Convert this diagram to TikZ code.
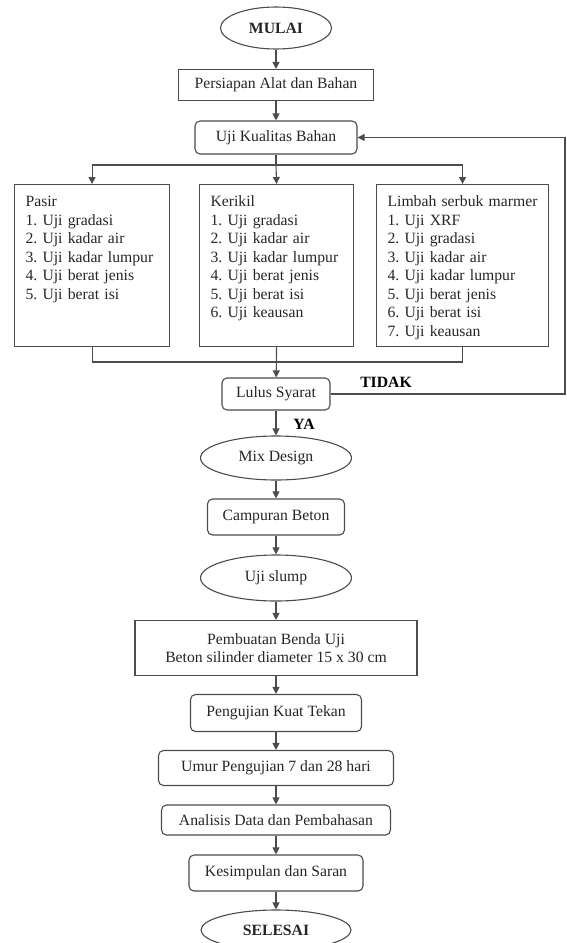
\documentclass[tikz,border=0pt]{standalone}
\usepackage{fontspec}
\setmainfont{Liberation Serif}
\usetikzlibrary{shapes.geometric,arrows.meta}
\newcommand{\listnr}[1]{\makebox[17pt][l]{#1}}

\begin{document}
\begin{tikzpicture}[x=1pt,y=-1pt,
        font=\fontsize{15.7}{18.5}\selectfont,
        line/.style={draw=black!70,line width=1.1pt},
        arrow/.style={line,-{Triangle[length=7pt,width=7pt]}},
        box/.style={line,rectangle,inner sep=0pt,text=black!85},
        roundbox/.style={box,rounded corners=5pt},
        oval/.style={line,ellipse,inner sep=0pt,text=black!85},
        listbox/.style={line,rectangle,anchor=north west,inner xsep=11pt,inner ysep=10pt,
            text height=12pt,text depth=130pt,align=left,text=black!85}]
                \path[use as bounding box,clip] (0,0) rectangle (566,943);
                \node[oval,minimum width=111,minimum height=42] (start) at (276,28) {\textbf{MULAI}};
                \node[box,minimum width=195,minimum height=31] (prep) at (276,85) {Persiapan Alat dan Bahan};
                \node[roundbox,minimum width=162,minimum height=33] (test) at (276,137.5) {Uji Kualitas Bahan};
                \coordinate (split) at (276,165);

                \node[listbox,text width=133] (sand) at (14,184) {Pasir\\\listnr{1.}Uji gradasi\\\listnr{2.}Uji kadar air\\\listnr{3.}Uji kadar lumpur\\\listnr{4.}Uji berat jenis\\\listnr{5.}Uji berat isi};
                \node[listbox,text width=132] (gravel) at (199,184) {Kerikil\\\listnr{1.}Uji gradasi\\\listnr{2.}Uji kadar air\\\listnr{3.}Uji kadar lumpur\\\listnr{4.}Uji berat jenis\\\listnr{5.}Uji berat isi\\\listnr{6.}Uji keausan};
                \node[listbox,text width=150] (marble) at (376,184) {Limbah serbuk marmer\\\listnr{1.}Uji XRF\\\listnr{2.}Uji gradasi\\\listnr{3.}Uji kadar air\\\listnr{4.}Uji kadar lumpur\\\listnr{5.}Uji berat jenis\\\listnr{6.}Uji berat isi\\\listnr{7.}Uji keausan};
                \coordinate (merge) at (276,362);

                \node[roundbox,minimum width=108,minimum height=32] (pass) at (276,394) {Lulus Syarat};
                \coordinate (back) at (565,394);
                \node[] (no) at (386,382) {\textbf{TIDAK}};
                \node[] (yes) at (304,424) {\textbf{YA}};
                \node[oval,minimum width=151,minimum height=44] (mix) at (276,458) {Mix Design};
                \node[roundbox,minimum width=137,minimum height=36] (blend) at (276,517) {Campuran Beton};
                \node[oval,minimum width=151,minimum height=46] (slump) at (276,578) {Uji slump};
                \node[box,minimum width=282,minimum height=55,align=center] (sample) at (276,648) {Pembuatan Benda Uji\\Beton silinder diameter 15 x 30 cm};
                \node[roundbox,minimum width=171,minimum height=37] (press) at (276,713) {Pengujian Kuat Tekan};
                \node[roundbox,minimum width=235,minimum height=35] (age) at (276,768) {Umur Pengujian 7 dan 28 hari};
                \node[roundbox,minimum width=229,minimum height=30] (data) at (276,820) {Analisis Data dan Pembahasan};
                \node[roundbox,minimum width=174,minimum height=36] (close) at (276,873) {Kesimpulan dan Saran};
                \node[oval,minimum width=150,minimum height=40] (finish) at (276,930) {\textbf{SELESAI}};

                \draw[arrow] (start) -- (prep);
                \draw[arrow] (prep) -- (test);
                \draw[line] (test) -- (split);
                \draw[arrow] (split) -| (sand.north);
                \draw[arrow] (split) -- (gravel.north);
                \draw[arrow] (split) -| (marble.north);
                \draw[line] (sand.south) |- (merge) -| (marble.south);
                \draw[arrow] (gravel.south) -- (pass);
                \draw[arrow] (pass.east) -- (back) |- (test.east);
                \draw[arrow] (pass) -- (mix);
                \draw[arrow] (mix) -- (blend);
                \draw[arrow] (blend) -- (slump);
                \draw[arrow] (slump) -- (sample);
                \draw[arrow] (sample) -- (press);
                \draw[arrow] (press) -- (age);
                \draw[arrow] (age) -- (data);
                \draw[arrow] (data) -- (close);
                \draw[arrow] (close) -- (finish);
            \end{tikzpicture}
\end{document}
